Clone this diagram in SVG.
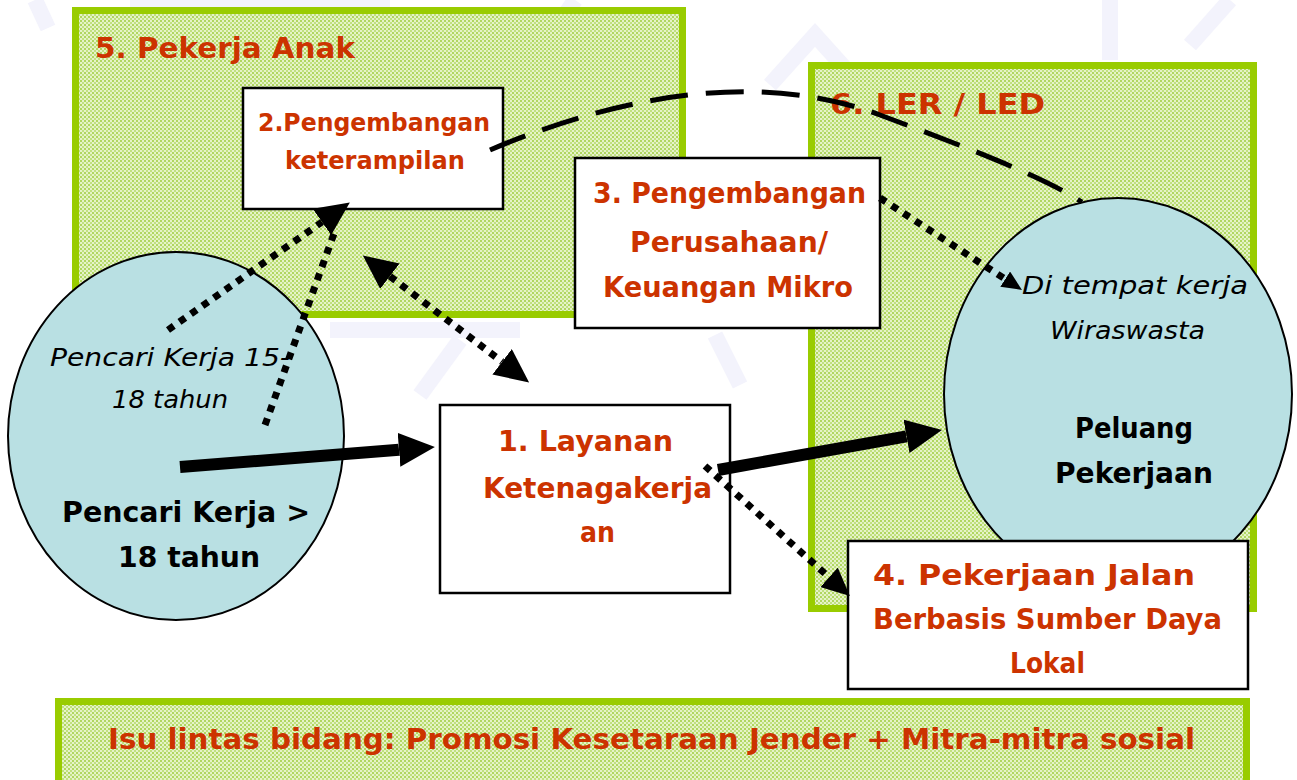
<svg xmlns="http://www.w3.org/2000/svg" width="1297" height="780" viewBox="0 0 1297 780">
<defs>
<pattern id="dots" width="4" height="4" patternUnits="userSpaceOnUse">
<rect width="4" height="4" fill="#e6f3c8"/>
<rect width="2" height="2" fill="#b0d660"/>
<rect x="2" y="2" width="2" height="2" fill="#c0e080"/>
</pattern>
<marker id="big" viewBox="0 -17 36 34" refX="0" refY="0" markerWidth="36" markerHeight="34" markerUnits="userSpaceOnUse" orient="auto"><path d="M0,-17 L36,0 L0,17 Z" fill="#000"/></marker>
<marker id="mid" viewBox="0 -16 34 32" refX="0" refY="0" markerWidth="34" markerHeight="32" markerUnits="userSpaceOnUse" orient="auto-start-reverse"><path d="M0,-16 L34,0 L0,16 Z" fill="#000"/></marker>
<marker id="med" viewBox="0 -13 28 26" refX="0" refY="0" markerWidth="28" markerHeight="26" markerUnits="userSpaceOnUse" orient="auto"><path d="M0,-13 L28,0 L0,13 Z" fill="#000"/></marker>
<marker id="small" viewBox="0 -9 20 18" refX="0" refY="0" markerWidth="20" markerHeight="18" markerUnits="userSpaceOnUse" orient="auto"><path d="M0,-9 L20,0 L0,9 Z" fill="#000"/></marker>
</defs>
<style>
.wm{fill:none;stroke:#f3f3fc;stroke-width:16}
.zone{fill:url(#dots);stroke:#99cc00;stroke-width:7}
.box{fill:#fff;stroke:#000;stroke-width:2.5}
.circ{fill:#b9e0e3;stroke:#000;stroke-width:2}
text{font-family:"DejaVu Sans","Liberation Sans",sans-serif}
.red{fill:#cc3300;font-weight:bold}
.blk{fill:#000;font-weight:bold}
.it{fill:#000;font-style:italic}
.dot{fill:none;stroke:#000;stroke-width:7;stroke-dasharray:7 7}
.thick{fill:none;stroke:#000;stroke-width:12}
.dash{fill:none;stroke:#000;stroke-width:5;stroke-dasharray:38 18}
</style>
<rect width="1297" height="780" fill="#fff"/>
<g id="watermark">
<path class="wm" d="M130,8 L390,8"/>
<path class="wm" d="M35,0 L48,28"/>
<path class="wm" d="M575,0 L548,40"/>
<path class="wm" d="M770,85 L815,35 L860,85"/>
<path class="wm" d="M1110,0 L1110,60"/>
<path class="wm" d="M1230,0 L1190,45"/>
<path class="wm" d="M330,330 L520,330"/>
<path class="wm" d="M420,395 L460,340"/>
<path class="wm" d="M715,335 L740,385"/>
</g>
<g id="zone5">
<rect class="zone" x="75.5" y="10.5" width="607" height="304"/>
<text class="red" x="95" y="58" font-size="29" textLength="260" lengthAdjust="spacingAndGlyphs">5. Pekerja Anak</text>
</g>
<g id="zone6">
<rect class="zone" x="811.5" y="65.5" width="442" height="543"/>
<text class="red" x="830" y="114" font-size="29" textLength="215" lengthAdjust="spacingAndGlyphs">6. LER / LED</text>
</g>
<g id="zoneIsu">
<rect class="zone" x="58.5" y="701.5" width="1188" height="90"/>
<text class="red" x="108" y="749" font-size="29" textLength="1087" lengthAdjust="spacingAndGlyphs">Isu lintas bidang: Promosi Kesetaraan Jender + Mitra-mitra sosial</text>
</g>
<g id="pencari">
<ellipse class="circ" cx="176" cy="436" rx="168" ry="184"/>
<text class="it" x="50" y="366" font-size="24" textLength="240" lengthAdjust="spacingAndGlyphs">Pencari Kerja 15-</text>
<text class="it" x="112" y="408" font-size="24" textLength="116" lengthAdjust="spacingAndGlyphs">18 tahun</text>
<text class="blk" x="62" y="522" font-size="28" textLength="248" lengthAdjust="spacingAndGlyphs">Pencari Kerja &gt;</text>
<text class="blk" x="118" y="567" font-size="28" textLength="142" lengthAdjust="spacingAndGlyphs">18 tahun</text>
</g>
<g id="peluang">
<ellipse class="circ" cx="1118" cy="394" rx="174" ry="196"/>
<text class="it" x="1022" y="294" font-size="24" textLength="226" lengthAdjust="spacingAndGlyphs">Di tempat kerja</text>
<text class="it" x="1050" y="339" font-size="24" textLength="155" lengthAdjust="spacingAndGlyphs">Wiraswasta</text>
<text class="blk" x="1075" y="438" font-size="28" textLength="118" lengthAdjust="spacingAndGlyphs">Peluang</text>
<text class="blk" x="1055" y="483" font-size="28" textLength="158" lengthAdjust="spacingAndGlyphs">Pekerjaan</text>
</g>
<g id="node2">
<rect class="box" x="243" y="88" width="260" height="121"/>
<text class="red" x="258" y="131" font-size="25" textLength="232" lengthAdjust="spacingAndGlyphs">2.Pengembangan</text>
<text class="red" x="285" y="169" font-size="25" textLength="180" lengthAdjust="spacingAndGlyphs">keterampilan</text>
</g>
<g id="node3">
<rect class="box" x="575" y="158" width="305" height="170"/>
<text class="red" x="593" y="203" font-size="28" textLength="273" lengthAdjust="spacingAndGlyphs">3. Pengembangan</text>
<text class="red" x="630" y="252" font-size="28" textLength="198" lengthAdjust="spacingAndGlyphs">Perusahaan/</text>
<text class="red" x="603" y="297" font-size="28" textLength="250" lengthAdjust="spacingAndGlyphs">Keuangan Mikro</text>
</g>
<g id="node1">
<rect class="box" x="440" y="405" width="290" height="188"/>
<text class="red" x="498" y="451" font-size="28" textLength="175" lengthAdjust="spacingAndGlyphs">1. Layanan</text>
<text class="red" x="483" y="498" font-size="28" textLength="229" lengthAdjust="spacingAndGlyphs">Ketenagakerja</text>
<text class="red" x="580" y="542" font-size="28" textLength="35" lengthAdjust="spacingAndGlyphs">an</text>
</g>
<g id="node4">
<rect class="box" x="848" y="541" width="400" height="148"/>
<text class="red" x="873" y="585" font-size="28" textLength="322" lengthAdjust="spacingAndGlyphs">4. Pekerjaan Jalan</text>
<text class="red" x="873" y="629" font-size="28" textLength="349" lengthAdjust="spacingAndGlyphs">Berbasis Sumber Daya</text>
<text class="red" x="1010" y="673" font-size="28" textLength="75" lengthAdjust="spacingAndGlyphs">Lokal</text>
</g>
<g id="connectors">
<path class="dash" d="M490,150 C620,95 760,70 880,115 C960,145 1040,175 1082,202"/>
<path class="dot" d="M168,330 L322,222" marker-end="url(#mid)"/>
<path class="dot" d="M265,425 L336,228"/>
<path class="dot" d="M389.9,276.2 L502.1,361.8" marker-start="url(#mid)" marker-end="url(#mid)"/>
<path class="dot" d="M880,198 L1005.2,279.1" marker-end="url(#small)"/>
<path class="dot" d="M705,466 L829.1,577.3" marker-end="url(#med)"/>
<path class="thick" d="M180,467 L399,449.8" marker-end="url(#big)"/>
<path class="thick" d="M718,470 L906.5,436.3" marker-end="url(#big)"/>
</g>
</svg>
